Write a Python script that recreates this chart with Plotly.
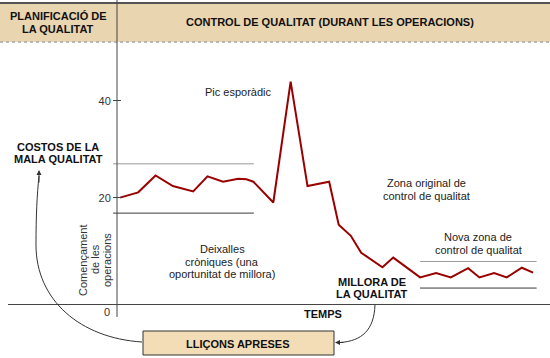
import plotly.graph_objects as go

# ---- data ----
time = [0.7, 4.9, 8.9, 12.9, 17.6, 20.9, 24.5, 28.0, 29.9, 31.5, 36.1, 40.1, 44.0, 49.0,
        51.2, 54.0, 56.4, 61.3, 63.8, 70.0, 73.7, 77.1, 81.1, 83.7, 87.1, 90.0, 93.5, 96.1]
cost = [20.0, 21.1, 24.6, 22.4, 21.3, 24.4, 23.3, 23.9, 23.8, 23.3, 19.0, 44.0, 22.4, 23.3,
        14.4, 12.1, 8.6, 5.6, 7.6, 3.5, 4.4, 3.5, 5.4, 3.5, 4.4, 3.5, 5.5, 4.5]

orig_zone_t = [-0.9, 31.6]
orig_upper = 27.0
orig_lower = 16.8
new_zone_t = [70.0, 96.9]
new_upper = 6.8
new_lower = 1.3

y_ticks = [20, 40]
y_ticklabels = ["20", "40"]

W, H = 550, 358
ML, MR, MT, MB = 8, 0, 42, 54
PW = W - ML - MR
PH = H - MT - MB

def px(x):
    return (x - ML) / PW

def py(y):
    return (H - MB - y) / PH

FONT = "Arial, Liberation Sans, sans-serif"
RED = "#990000"
DARK = "#333333"

fig = go.Figure()

fig.add_trace(go.Scatter(x=time, y=cost, mode="lines",
                         line=dict(color=RED, width=2), hoverinfo="skip"))
for zt, lvl, col in [(orig_zone_t, orig_upper, "#9a9a9a"), (orig_zone_t, orig_lower, "#3a3a3a"),
                     (new_zone_t, new_upper, "#9a9a9a"), (new_zone_t, new_lower, "#3a3a3a")]:
    fig.add_trace(go.Scatter(x=zt, y=[lvl, lvl], mode="lines",
                             line=dict(color=col, width=1), hoverinfo="skip"))

shapes = []
# header band
shapes.append(dict(type="rect", xref="paper", yref="paper", x0=px(0), x1=px(550),
                   y0=py(42), y1=py(3), fillcolor="#E9D5B0", line=dict(width=0), layer="below"))
shapes.append(dict(type="line", xref="paper", yref="paper", x0=px(0), x1=px(550),
                   y0=py(3), y1=py(3), line=dict(color="#555555", width=2)))
shapes.append(dict(type="line", xref="paper", yref="paper", x0=px(0), x1=px(550),
                   y0=py(42), y1=py(42), line=dict(color="#a8a8a8", width=1.5, dash="dot")))
# vertical axis / header divider
shapes.append(dict(type="line", xref="paper", yref="paper", x0=px(117), x1=px(117),
                   y0=py(0), y1=py(317), line=dict(color="#444444", width=1)))
# lessons box
shapes.append(dict(type="rect", xref="paper", yref="paper", x0=px(143), x1=px(334),
                   y0=py(355), y1=py(331), fillcolor="#F3DDB6", line=dict(color=DARK, width=1)))

def path(points_cmd):
    out = []
    for tok in points_cmd:
        if isinstance(tok, str):
            out.append(tok)
        else:
            out.append(f"{px(tok[0]):.5f},{py(tok[1]):.5f}")
    return " ".join(out)

shapes.append(dict(type="path", xref="paper", yref="paper",
                   path=path(["M", (142, 342), "C", (80, 338), (36, 300), (36, 245),
                              "C", (36, 215), (37, 195), (39, 176)]),
                   line=dict(color=DARK, width=1)))
shapes.append(dict(type="path", xref="paper", yref="paper",
                   path=path(["M", (375, 305), "C", (374, 330), (362, 341), (340, 342.5)]),
                   line=dict(color=DARK, width=1)))

annotations = []

def txt(s, x, y, size=11, bold=False, color="#222222", angle=0):
    annotations.append(dict(text=f"<b>{s}</b>" if bold else s, x=px(x), y=py(y),
                            xref="paper", yref="paper", xanchor="center", yanchor="middle",
                            showarrow=False, textangle=angle,
                            font=dict(family=FONT, size=size, color=color)))

txt("PLANIFICACIÓ DE", 58, 16, bold=True, color="#111")
txt("LA QUALITAT", 58, 29, bold=True, color="#111")
txt("CONTROL DE QUALITAT (DURANT LES OPERACIONS)", 330, 22, bold=True, color="#111")
txt("Pic esporàdic", 238, 92)
txt("COSTOS DE LA", 58, 147, bold=True, color="#111")
txt("MALA QUALITAT", 58, 159, bold=True, color="#111")
txt("Zona original de", 426, 183)
txt("control de qualitat", 426, 196)
txt("Nova zona de", 478, 237)
txt("control de qualitat", 478, 250)
txt("MILLORA DE", 372, 282, bold=True, color="#111")
txt("LA QUALITAT", 372, 294, bold=True, color="#111")
txt("TEMPS", 323, 314, bold=True, color="#111")
txt("LLIÇONS APRESES", 238, 344, bold=True, color="#111")
txt("Deixalles", 222, 249)
txt("cròniques (una", 222, 262)
txt("oportunitat de millora)", 222, 274)
txt("Començament", 83, 260, angle=-90, color="#333")
txt("de les", 95, 259, angle=-90, color="#333")
txt("operacions", 107, 260, angle=-90, color="#333")
txt("0", 107, 312, color="#333")

# arrowheads
annotations.append(dict(x=px(39), y=py(170), xref="paper", yref="paper", ax=0, ay=14,
                        showarrow=True, arrowhead=2, arrowsize=1, arrowwidth=1,
                        arrowcolor=DARK, text=""))
annotations.append(dict(x=px(335), y=py(342.5), xref="paper", yref="paper", ax=10, ay=0,
                        showarrow=True, arrowhead=2, arrowsize=1, arrowwidth=1,
                        arrowcolor=DARK, text=""))

fig.update_layout(
    width=W, height=H,
    margin=dict(l=ML, r=MR, t=MT, b=MB, pad=0),
    paper_bgcolor="white", plot_bgcolor="white",
    showlegend=False,
    shapes=shapes, annotations=annotations,
    font=dict(family=FONT, size=11, color="#333"),
    xaxis=dict(range=[(ML - 117) / 4.33, 100], showgrid=False, zeroline=False,
               showticklabels=False, ticks="", showline=True, linecolor="#444444",
               linewidth=1, fixedrange=True),
    yaxis=dict(range=[-2, 52.2], showgrid=False, zeroline=False, showline=False,
               anchor="free", position=px(121), ticks="outside", ticklen=8,
               tickcolor="#444444", tickwidth=1,
               tickvals=y_ticks, ticktext=y_ticklabels,
               tickfont=dict(family=FONT, size=11, color="#333"), fixedrange=True),
)

fig.write_html("out.html", config={"displayModeBar": False},
               post_script="document.body.style.margin='0';document.body.style.padding='0';")
